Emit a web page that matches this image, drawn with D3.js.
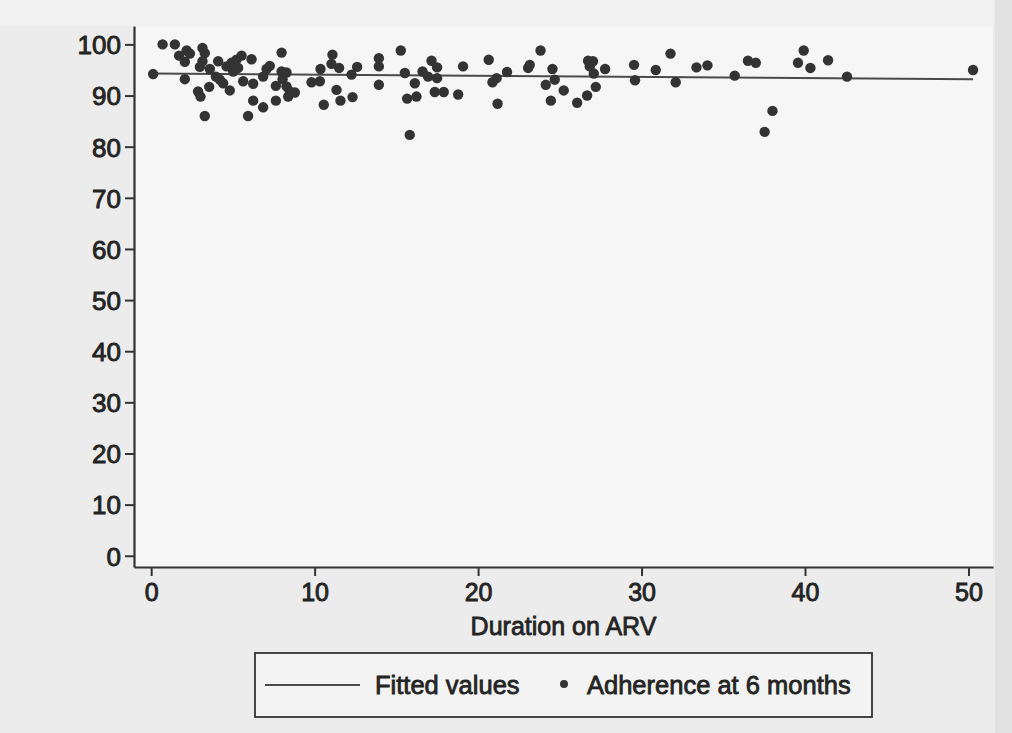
<!DOCTYPE html>
<html>
<head>
<meta charset="utf-8">
<script src="https://cdn.jsdelivr.net/npm/d3@7"></script>
<style>
  body { margin: 0; background: #ececec; }
  text { font-family: "Liberation Sans", Arial, sans-serif; fill: #262626; }
</style>
</head>
<body>
<div id="chart"></div>
<script>
// data
const duration = [
  0.12, 0.70, 1.45, 1.71, 2.17, 2.37, 2.06, 2.06, 3.14, 3.28, 3.14, 2.98, 3.59, 2.87, 3.02, 3.55, 3.28,
  4.10, 3.96, 4.20, 4.40, 4.81, 4.61, 4.92, 5.22, 5.53, 5.02, 5.32, 5.63, 6.14, 6.24, 6.24, 5.93, 6.85,
  7.06, 7.26, 6.85, 7.63, 7.63, 7.98, 7.98, 8.28, 8.04, 8.28, 8.48, 8.79, 8.38, 9.81, 10.32, 10.36, 10.56,
  11.09, 11.03, 11.50, 11.34, 11.58, 12.26, 12.60, 12.32, 13.93, 13.93, 13.93, 15.27, 15.52, 16.13, 15.66,
  16.23, 15.82, 16.60, 16.94, 17.15, 17.49, 17.49, 17.35, 17.90, 18.78, 19.08, 20.65, 20.88, 21.19,
  21.13, 21.77, 23.06, 23.16, 23.82, 24.55, 24.69, 24.14, 24.45, 25.24, 26.06, 26.67, 27.20, 26.73, 27.03,
  26.83, 27.08, 27.77, 29.54, 29.60, 30.87, 31.77, 32.09,
  33.36, 34.03, 35.70, 36.51, 36.99, 38.01, 37.53, 39.57, 39.92, 40.33, 41.41, 42.57, 50.28
];
const adherence = [
  94.2, 100, 100, 97.8, 98.8, 98.2, 96.6, 93.2, 99.3, 98.3, 96.7, 95.6, 95.2, 90.8, 89.8, 91.7, 86.0,
  96.7, 93.7, 93.1, 92.4, 91.0, 95.7, 96.4, 97.0, 97.8, 94.7, 95.4, 92.8, 97.1, 92.3, 89.0, 86.0, 87.7,
  95.2, 95.8, 93.7, 91.9, 89.0, 98.4, 94.7, 94.5, 93.2, 91.8, 90.8, 90.6, 89.8, 92.6, 92.8, 95.2, 88.2,
  98.0, 96.2, 95.4, 91.1, 89.0, 94.1, 95.6, 89.7, 97.3, 95.7, 92.1, 98.8, 94.4, 92.4, 89.4,
  89.8, 82.3, 94.7, 93.7, 96.8, 95.5, 93.4, 90.7, 90.7, 90.2, 95.7, 97.0, 92.6, 88.4,
  93.4, 94.6, 95.4, 96.0, 98.8, 95.2, 93.1, 92.1, 89.0, 91.0, 88.6, 90.0, 91.7, 96.8, 96.7,
  95.7, 94.3, 95.2, 96.0, 93.0, 95.0, 98.2, 92.6,
  95.5, 95.9, 93.9, 96.8, 96.4, 87.0, 82.9, 96.4, 98.8, 95.4, 96.9, 93.7, 95.0
];
// fitted regression line (end points)
const fittedX = [0.12, 50.28];
const fittedY = [94.3, 93.2];

const xTicks = [0, 10, 20, 30, 40, 50];
const yTicks = [0, 10, 20, 30, 40, 50, 60, 70, 80, 90, 100];
const xTitle = "Duration on ARV";
const legendLabels = ["Fitted values", "Adherence at 6 months"];

const width = 1012, height = 733;
const plot = { left: 134, right: 993, top: 26, bottom: 567 };

const svg = d3.select("#chart").append("svg")
  .attr("width", width)
  .attr("height", height);

// scanned page + plot region backgrounds
svg.append("rect").attr("width", width).attr("height", height).attr("fill", "#ececec");
svg.append("rect").attr("x", 0).attr("y", 0).attr("width", plot.right).attr("height", plot.top)
  .attr("fill", "#f1f1f1");
svg.append("rect")
  .attr("x", plot.left).attr("y", plot.top)
  .attr("width", plot.right - plot.left).attr("height", plot.bottom - plot.top)
  .attr("fill", "#f6f6f6");
svg.append("rect").attr("x", plot.right + 2).attr("y", 0).attr("width", width - plot.right - 2).attr("height", height)
  .attr("fill", "#e2e2e2");

const x = d3.scaleLinear().domain([-1.05, 51.5]).range([plot.left, plot.right]);
const y = d3.scaleLinear().domain([-2.2, 103.6]).range([plot.bottom, plot.top]);

// axes
const xAxis = svg.append("g")
  .attr("transform", `translate(0,${plot.bottom})`)
  .call(d3.axisBottom(x).tickValues(xTicks).tickSize(9).tickSizeOuter(0).tickPadding(7)
    .tickFormat(d3.format("d")));
const yAxis = svg.append("g")
  .attr("transform", `translate(${plot.left},0)`)
  .call(d3.axisLeft(y).tickValues(yTicks).tickSize(9).tickSizeOuter(0).tickPadding(4)
    .tickFormat(d3.format("d")));

[xAxis, yAxis].forEach(g => {
  g.select(".domain").attr("stroke", "#333").attr("stroke-width", 2.2);
  g.selectAll(".tick line").attr("stroke", "#333").attr("stroke-width", 2);
  g.selectAll(".tick text")
    .attr("font-size", 26)
    .attr("fill", "#222")
    .attr("stroke", "#222")
    .attr("stroke-width", 0.9);
});
xAxis.selectAll(".tick text").attr("font-size", 25);
yAxis.selectAll(".tick text").attr("dy", "0.36em");

svg.append("text")
  .attr("x", (plot.left + plot.right) / 2)
  .attr("y", 635)
  .attr("text-anchor", "middle")
  .attr("font-size", 25)
  .attr("stroke", "#222").attr("stroke-width", 0.8)
  .text(xTitle);

// fitted line
const fitted = fittedX.map((d, i) => [d, fittedY[i]]);
svg.append("path")
  .datum(fitted)
  .attr("fill", "none")
  .attr("stroke", "#4a4a4a")
  .attr("stroke-width", 2)
  .attr("d", d3.line().x(d => x(d[0])).y(d => y(d[1])));

// scatter
svg.append("g")
  .selectAll("circle")
  .data(duration.map((d, i) => [d, adherence[i]]))
  .join("circle")
  .attr("cx", d => x(d[0]))
  .attr("cy", d => y(d[1]))
  .attr("r", 5.2)
  .attr("fill", "#333");

// legend
const legend = svg.append("g");
legend.append("rect")
  .attr("x", 255).attr("y", 653).attr("width", 617).attr("height", 64)
  .attr("fill", "#f3f3f3").attr("stroke", "#333").attr("stroke-width", 1.8);
legend.append("line")
  .attr("x1", 265).attr("x2", 360).attr("y1", 685).attr("y2", 685)
  .attr("stroke", "#4a4a4a").attr("stroke-width", 2);
legend.append("text")
  .attr("x", 375).attr("y", 685).attr("dy", "0.36em")
  .attr("font-size", 25.5)
  .attr("stroke", "#222").attr("stroke-width", 0.8)
  .text(legendLabels[0]);
legend.append("circle")
  .attr("cx", 564).attr("cy", 684).attr("r", 4)
  .attr("fill", "#333");
legend.append("text")
  .attr("x", 587).attr("y", 685).attr("dy", "0.36em")
  .attr("font-size", 25.5)
  .attr("stroke", "#222").attr("stroke-width", 0.8)
  .text(legendLabels[1]);
</script>
</body>
</html>
